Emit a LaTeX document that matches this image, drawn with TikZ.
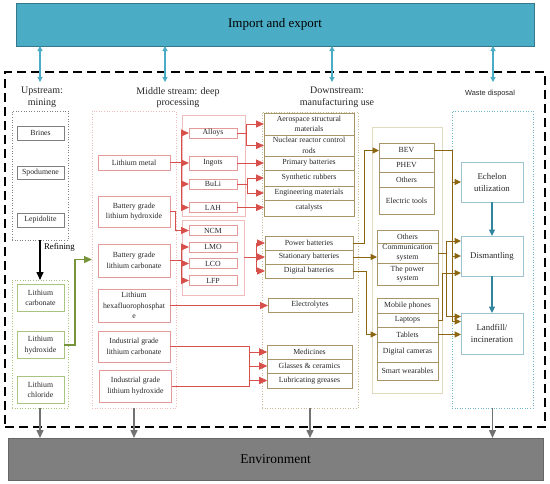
\documentclass[tikz,border=0pt]{standalone}
\usepackage{fontspec}
\setmainfont{Liberation Serif}
\newfontfamily\sansfam{Liberation Sans}
\usetikzlibrary{positioning,arrows.meta}
\definecolor{impblue}{HTML}{4BACC6}
\definecolor{envgray}{HTML}{7F7F7F}
\definecolor{txtgray}{HTML}{262626}
\definecolor{upgray}{HTML}{7F7F7F}
\definecolor{refgreen}{HTML}{A9C47F}
\definecolor{arrgreen}{HTML}{77933C}
\definecolor{midpink}{HTML}{E39A98}
\definecolor{midframe}{HTML}{F0BDBC}
\definecolor{arrred}{HTML}{D8504B}
\definecolor{downtan}{HTML}{A8966A}
\definecolor{downframe}{HTML}{C9BC94}
\definecolor{appframe}{HTML}{E2DABF}
\definecolor{arrolive}{HTML}{8C6510}
\definecolor{wastebox}{HTML}{9CC3CF}
\definecolor{wasteframe}{HTML}{6FB3C6}
\definecolor{arrteal}{HTML}{31859C}
\begin{document}
\begin{tikzpicture}[x=1pt, y=-1pt,
  every node/.style={inner sep=0pt, outer sep=0pt, align=center, text=txtgray},
  lbl/.style={font=\fontsize{7.8pt}{10.5pt}\selectfont},
  heading/.style={font=\fontsize{10pt}{11.5pt}\selectfont},
  groupframe/.style={draw, dotted, line width=0.6pt},
  stagebox/.style={draw, line width=0.8pt, lbl},
  upbox/.style={stagebox, draw=upgray, minimum width=47pt},
  refbox/.style={stagebox, draw=refgreen, minimum width=47pt, minimum height=27pt},
  midbox/.style={stagebox, draw=midpink, minimum width=72pt},
  catbox/.style={stagebox, draw=midpink, minimum width=48pt, minimum height=10pt},
  usebox/.style={stagebox, draw=downtan, minimum width=90pt},
  appbox/.style={stagebox, draw=downtan, minimum width=61pt},
  wastebx/.style={stagebox, draw=wastebox, line width=1pt, minimum width=62pt, minimum height=40pt,
    font=\fontsize{8.8pt}{12pt}\selectfont},
  imparr/.style={{Triangle[length=5pt,width=5pt]}-{Triangle[length=5pt,width=5pt]}, draw=impblue, line width=1.1pt},
  envarr/.style={-{Triangle[length=8pt,width=7pt]}, draw=envgray!90!black, line width=1.4pt},
  redarr/.style={-{Triangle[length=8pt,width=7pt]}, draw=arrred, line width=1pt},
  grnarr/.style={-{Triangle[length=8pt,width=7pt]}, draw=arrgreen, line width=1.2pt},
  olivearr/.style={-{Triangle[length=6.5pt,width=6pt]}, draw=arrolive, line width=1pt},
  tealarr/.style={-{Triangle[length=6.5pt,width=6pt]}, draw=arrteal, line width=1.2pt}]
\useasboundingbox (0,0) rectangle (550,483);
% Import / environment / chain
\node[fill=impblue, draw=impblue!70!black, line width=0.5pt, minimum width=518pt, minimum height=43pt,
  font=\fontsize{13pt}{15pt}\selectfont, text=black] (imp) at (275,24.5) {Import and export};
\node[fill=envgray, draw=envgray!80!black, line width=0.5pt, minimum width=535pt, minimum height=42pt,
  font=\fontsize{13.5pt}{15pt}\selectfont, text=black] (env) at (275.5,459) {Environment};
\node[draw=black, line width=1.4pt, dash pattern=on 9pt off 5pt, minimum width=540pt, minimum height=355pt] (chain) at (275,249.5) {};
% Frames
\node[groupframe, draw=upgray, minimum width=56pt, minimum height=129pt] (upgrp) at (40,175.5) {};
\node[groupframe, draw=refgreen, minimum width=56pt, minimum height=128pt] (refgrp) at (40,344) {};
\node[groupframe, draw=midframe, minimum width=84pt, minimum height=297pt] (midgrp) at (134,259.5) {};
\node[groupframe, draw=downframe, minimum width=96pt, minimum height=296pt] (downgrp) at (310,260) {};
\node[groupframe, draw=wasteframe, minimum width=81pt, minimum height=297pt] (wastegrp) at (492.5,259.5) {};
\node[draw=midframe, line width=0.6pt, minimum width=63pt, minimum height=101pt] (grp1) at (213.5,165.5) {};
\node[draw=midframe, line width=0.6pt, minimum width=62pt, minimum height=75pt] (grp2) at (213,257.5) {};
\node[draw=appframe, line width=1pt, minimum width=70pt, minimum height=266pt] (appgrp) at (407,260) {};
% Headings
\node[heading] (uphead) at (42,97.5) {Upstream:\\mining};
\node[heading] (midhead) at (178,97.5) {Middle stream: deep\\processing};
\node[heading] (downhead) at (337,97.5) {Downstream:\\manufacturing use};
\node[font=\sansfam\fontsize{7.4pt}{9pt}\selectfont] (wastehead) at (490,94) {Waste disposal};
% Upstream
\node[upbox, minimum height=14pt] (brines) at (40.5,133) {Brines};
\node[upbox, minimum height=13pt, below=26pt of brines] (spodumene) {Spodumene};
\node[upbox, minimum height=14pt, below=34pt of spodumene] (lepidolite) {Lepidolite};
\node[refbox] (licarb) at (40.5,298) {Lithium\\carbonate};
\node[refbox, below=20pt of licarb] (lihyd) {Lithium\\hydroxide};
\node[refbox, below=18pt of lihyd] (lichlor) {Lithium\\chloride};
% Middle stream
\node[midbox, minimum height=15pt] (limetal) at (134,162.5) {Lithium metal};
\node[midbox, minimum height=31pt, below=26pt of limetal] (bgoh) {Battery grade\\lithium hydroxide};
\node[midbox, minimum height=33pt, below=17pt of bgoh] (bgco) {Battery grade\\lithium carbonate};
\node[midbox, minimum height=33pt, below=12pt of bgco] (lipf) {Lithium\\hexafluorophosphat\\e};
\node[midbox, minimum height=31pt, below=9pt of lipf] (igco) {Industrial grade\\lithium carbonate};
\node[midbox, minimum height=32pt, below=8pt of igco, xshift=1.5pt] (igoh) {Industrial grade\\lithium hydroxide};
\node[catbox] (alloys) at (213,133) {Alloys};
\node[catbox, minimum height=14pt, below=18pt of alloys] (ingots) {Ingots};
\node[catbox, below=9pt of ingots] (buli) {BuLi};
\node[catbox, below=13.5pt of buli] (lah) {LAH};
\node[catbox, below=13pt of lah] (ncm) {NCM};
\node[catbox, below=6.5pt of ncm] (lmo) {LMO};
\node[catbox, below=6.5pt of lmo] (lco) {LCO};
\node[catbox, below=7pt of lco] (lfp) {LFP};
% Downstream
\node[usebox, minimum height=22pt] (aero) at (309,124) {Aerospace structural\\materials};
\node[usebox, minimum height=21pt, below=0pt of aero] (nuclear) {Nuclear reactor control\\rods};
\node[usebox, minimum height=14pt, below=0pt of nuclear] (primary) {Primary batteries};
\node[usebox, minimum height=16pt, below=0pt of primary] (synrub) {Synthetic rubbers};
\node[usebox, minimum height=14pt, below=0pt of synrub] (engmat) {Engineering materials};
\node[usebox, minimum height=16pt, below=0pt of engmat] (catal) {catalysts};
\node[usebox, minimum width=88pt, minimum height=14pt] (power) at (309,243) {Power batteries};
\node[usebox, minimum width=88pt, minimum height=14pt, below=0pt of power] (stationary) {Stationary batteries};
\node[usebox, minimum width=88pt, minimum height=14pt, below=0pt of stationary] (digital) {Digital batteries};
\node[usebox, minimum width=84pt, minimum height=14pt] (electro) at (310,305) {Electrolytes};
\node[usebox, minimum width=85pt, minimum height=14pt] (medicines) at (309.5,352) {Medicines};
\node[usebox, minimum width=85pt, minimum height=14pt, below=0pt of medicines] (glasses) {Glasses \& ceramics};
\node[usebox, minimum width=85pt, minimum height=15pt, below=0pt of glasses] (lubric) {Lubricating greases};
\node[appbox, minimum width=55pt, minimum height=15pt] (bev) at (406.5,150.5) {BEV};
\node[appbox, minimum width=55pt, minimum height=14pt, below=0pt of bev] (phev) {PHEV};
\node[appbox, minimum width=55pt, minimum height=15pt, below=0pt of phev] (othersev) {Others};
\node[appbox, minimum width=55pt, minimum height=27pt, below=0pt of othersev] (etools) {Electric tools};
\node[appbox, minimum height=13pt] (othersst) at (407.5,236.5) {Others};
\node[appbox, minimum height=20pt, below=0pt of othersst, font=\fontsize{7.8pt}{9.5pt}\selectfont] (comm) {Communication\\system};
\node[appbox, minimum height=22pt, below=0pt of comm, font=\fontsize{7.8pt}{9.5pt}\selectfont] (powersys) {The power\\system};
\node[appbox, minimum height=15pt] (mobile) at (407.5,305.5) {Mobile phones};
\node[appbox, minimum height=14pt, below=0pt of mobile] (laptops) {Laptops};
\node[appbox, minimum height=15pt, below=0pt of laptops] (tablets) {Tablets};
\node[appbox, minimum height=20pt, below=0pt of tablets] (cameras) {Digital cameras};
\node[appbox, minimum height=18pt, below=0pt of cameras] (wearables) {Smart wearables};
% Waste disposal
\node[wastebx] (echelon) at (492,182) {Echelon\\utilization};
\node[wastebx] (dismantling) at (492,256) {Dismantling};
\node[wastebx, minimum height=41pt] (landfill) at (492,333.5) {Landfill/\\incineration};
% Connections
\foreach \x/\n in {40/1,165/2,332/3,493/4} {
  \coordinate (ie\n) at (\x,82);
  \draw[imparr] (imp.south -| ie\n) -- (ie\n);
}
\foreach \g in {refgrp,midgrp,downgrp,wastegrp}
  \draw[envarr] (\g.south) -- (\g.south |- env.north);
\draw[-{Triangle[length=8pt,width=7pt]}, line width=1.5pt, black] (upgrp.south) -- (refgrp.north)
  node[pos=0.18, right=4pt, font=\fontsize{8.8pt}{10pt}\selectfont, text=black] {Refining};
\draw[grnarr] (lihyd.east) -- ++(11,0) |- (midgrp.west);
\coordinate (trk1) at (181,0);
\coordinate (trk2) at (249,0);
\foreach \t in {alloys,ingots,buli,lah}
  \draw[redarr] (limetal.east) -- (limetal.east -| trk1) |- (\t.west);
\draw[redarr] (bgoh.east) -- ++(5,0) |- (ncm.west);
\foreach \t in {lmo,lco,lfp}
  \draw[redarr] (bgco.east) -- (bgco.east -| trk1) |- (\t.west);
\foreach \t in {aero,nuclear}
  \draw[redarr] (alloys.east) -- ++(9,0) |- (\t.west);
\draw[redarr] (ingots.east) -- (ingots.east -| primary.west);
\foreach \t in {synrub,engmat}
  \draw[redarr] (buli.east) -- ++(10,0) |- (\t.west);
\draw[redarr] (lah.east) -- (lah.east -| catal.west);
\foreach \t in {power,stationary,digital}
  \draw[redarr] (grp2.east) -- ++(12,0) |- (\t.west);
\draw[redarr] (lipf.east) -- (lipf.east -| electro.west);
\foreach \s in {igco,igoh}
  \foreach \t in {medicines,glasses,lubric}
    \draw[redarr] (\s.east) -- (\s.east -| trk2) |- (\t.west);
\draw[olivearr] (power.east) -- ++(11,0) |- (bev.west);
\draw[olivearr] (stationary.east) -- (stationary.east -| comm.west);
\draw[olivearr] (digital.east) -- ++(13,0) |- (tablets.west);
\coordinate (trk3) at (452,0);
\coordinate (trk4) at (446,0);
\coordinate (trk5) at (442,0);
\draw[olivearr] (bev.east) -- (bev.east -| trk3) |- (echelon.west);
\draw[olivearr] (bev.east) -- (bev.east -| trk3) |- (dismantling.west);
\draw[olivearr] (bev.east) -- (bev.east -| trk3) |- ([yshift=12pt]landfill.west);
\draw[olivearr] (comm.east) -- (comm.east -| trk4) |- ([yshift=15pt]dismantling.west);
\draw[olivearr] (comm.east) -- (comm.east -| trk4) |- ([yshift=17pt]landfill.west);
\draw[olivearr] (laptops.east) -- (laptops.east -| trk5) |- ([yshift=-17pt]dismantling.west);
\draw[olivearr] (tablets.east) -- (tablets.east -| landfill.west);
\draw[tealarr] (echelon) -- (dismantling);
\draw[tealarr] (dismantling) -- (landfill);
\end{tikzpicture}
\end{document}
